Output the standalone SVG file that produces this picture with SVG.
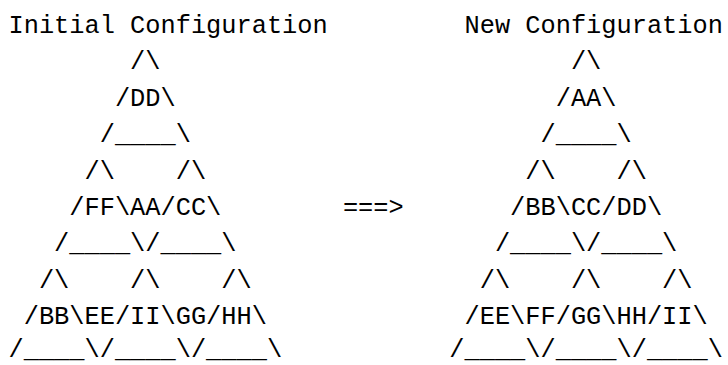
<svg xmlns="http://www.w3.org/2000/svg" width="728" height="365" viewBox="0 0 728 365">
<style>
text{font-family:"Liberation Mono","DejaVu Sans Mono",monospace;font-size:25.33px;fill:#000;white-space:pre}
</style>
<rect width="728" height="365" fill="#fff"/>
<g id="initial-configuration" xml:space="preserve">
<text x="8.5" y="32.7">Initial Configuration</text>
<text x="130.1" y="69.1">/\</text>
<text x="114.9" y="105.6">/DD\</text>
<text x="99.7" y="142">/____\</text>
<text x="84.5" y="178.5">/\    /\</text>
<text x="69.3" y="214.9">/FF\AA/CC\</text>
<text x="54.1" y="251.4">/____\/____\</text>
<text x="38.9" y="287.8">/\    /\    /\</text>
<text x="23.7" y="324.3">/BB\EE/II\GG/HH\</text>
<text x="8.5" y="357">/____\/____\/____\</text>
</g>
<g id="connectors">
<text x="342.9" y="214.9">===&gt;</text>
</g>
<g id="new-configuration" xml:space="preserve">
<text x="464.5" y="32.7">New Configuration</text>
<text x="570.9" y="69.1">/\</text>
<text x="555.7" y="105.6">/AA\</text>
<text x="540.5" y="142">/____\</text>
<text x="525.3" y="178.5">/\    /\</text>
<text x="510.1" y="214.9">/BB\CC/DD\</text>
<text x="494.9" y="251.4">/____\/____\</text>
<text x="479.7" y="287.8">/\    /\    /\</text>
<text x="464.5" y="324.3">/EE\FF/GG\HH/II\</text>
<text x="449.3" y="357">/____\/____\/____\</text>
</g>
</svg>
